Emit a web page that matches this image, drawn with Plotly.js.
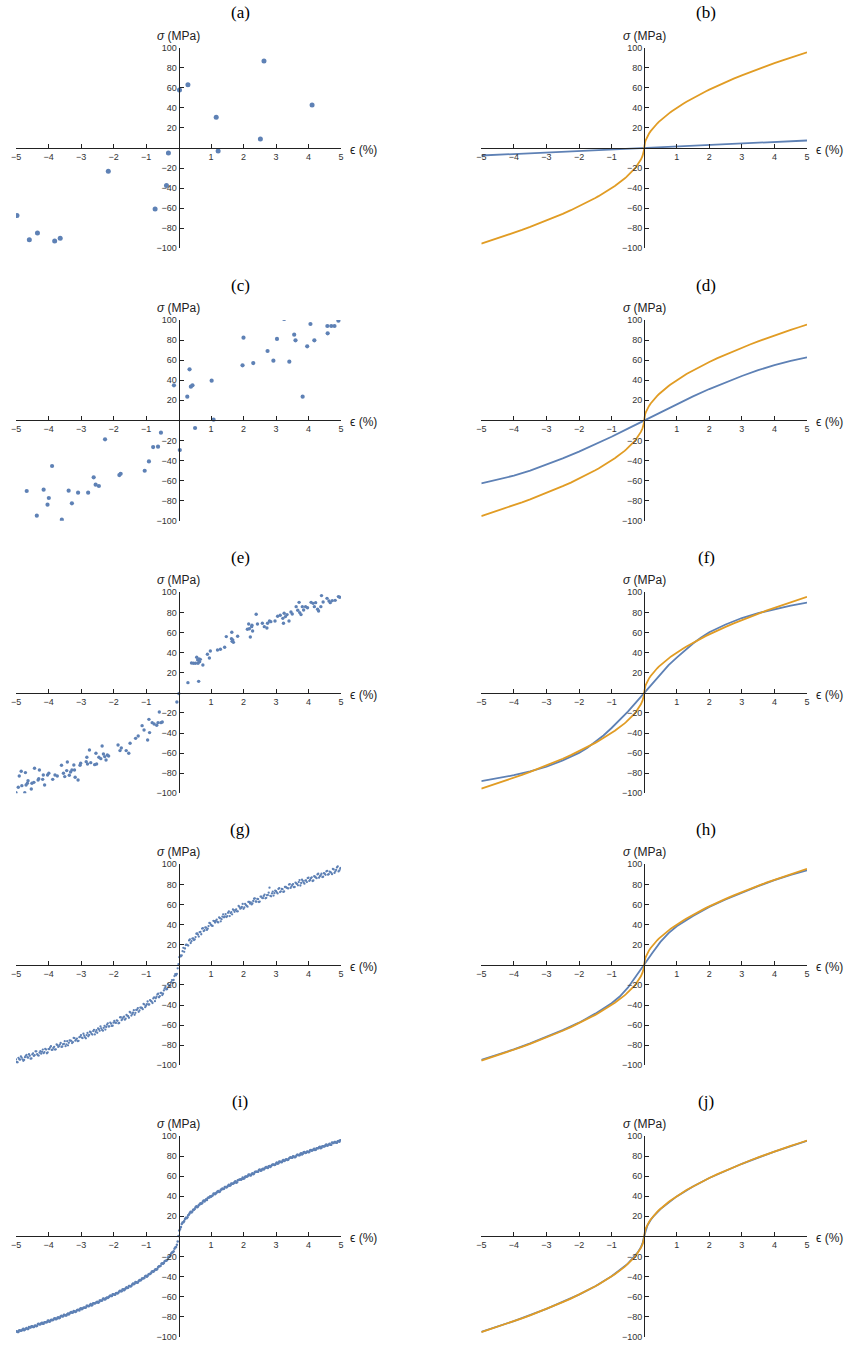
<!DOCTYPE html>
<html>
<head>
<meta charset="utf-8">
<script src="https://cdn.plot.ly/plotly-3.0.1.min.js"></script>
<style>html,body{margin:0;padding:0;background:#fff;}#chart{width:845px;height:1345px;}</style>
</head>
<body>
<div id="chart"></div>
<script>
// ---------------- DATA ----------------
const panelLetters = ['(a)','(b)','(c)','(d)','(e)','(f)','(g)','(h)','(i)','(j)'];
const xTickVals = [-5,-4,-3,-2,-1,1,2,3,4,5];
const yTickVals = [-100,-80,-60,-40,-20,20,40,60,80,100];

// (a) sparse samples
const aX = [-4.97,-4.59,-4.34,-3.81,-3.64,-2.16,-0.72,-0.37,-0.31,0.03,0.29,1.16,1.22,2.52,2.63,4.11];
const aY = [-67.4,-91.4,-84.7,-92.7,-90.0,-23.3,-60.8,-37.5,-5.0,57.8,63.1,30.6,-3.0,9.0,86.7,42.9];

// (c) samples
const cX = [-4.67,-4.36,-4.15,-4.03,-3.99,-3.89,-3.59,-3.38,-3.28,-3.09,-2.78,-2.61,-2.55,-2.45,-2.26,-1.82,-1.78,-1.04,-0.91,-0.78,-0.63,-0.54,-0.14,0.04,0.27,0.34,0.38,0.43,0.51,1.02,1.08,1.97,2.0,2.30,2.74,2.92,3.03,3.25,3.41,3.56,3.60,3.82,3.96,4.06,4.18,4.58,4.59,4.70,4.80,4.92];
const cY = [-70.4,-95.0,-69.1,-84.0,-77.4,-45.5,-99.0,-70.1,-82.7,-72.1,-72.1,-56.8,-64.1,-65.4,-18.9,-54.5,-53.2,-50.2,-40.9,-26.6,-26.2,-12.3,34.9,-29.6,23.6,50.8,33.6,34.9,-7.6,39.5,0.7,54.8,82.4,57.1,69.1,59.5,81.1,101,58.5,85.4,79.7,23.6,73.8,96.0,79.7,94.0,86.7,94.0,94.0,99.3];

// (e) samples
const eX = [-5.0,-4.93,-4.90,-4.84,-4.82,-4.73,-4.71,-4.69,-4.65,-4.63,-4.53,-4.51,-4.45,-4.43,-4.32,-4.28,-4.30,-4.18,-4.16,-4.12,-4.03,-3.99,-3.87,-3.80,-3.73,-3.60,-3.54,-3.50,-3.44,-3.42,-3.36,-3.32,-3.28,-3.22,-3.20,-3.18,-3.09,-3.03,-3.01,-2.84,-2.82,-2.80,-2.74,-2.70,-2.58,-2.52,-2.54,-2.45,-2.39,-2.35,-2.31,-2.27,-2.23,-2.19,-2.15,-1.86,-1.80,-1.76,-1.61,-1.53,-1.49,-1.32,-1.24,-1.12,-1.06,-0.95,-0.91,-0.89,-0.81,-0.75,-0.67,-0.63,-0.59,-0.54,-0.50,
  -0.05,0.01,0.29,0.62,0.40,0.46,0.52,0.56,0.59,0.63,0.65,0.60,0.67,0.75,0.89,0.95,0.98,1.20,1.29,1.42,1.47,1.64,1.63,1.67,1.69,1.65,1.82,2.12,2.16,2.18,2.21,2.25,2.28,2.26,2.39,2.43,2.58,2.64,2.72,2.74,2.80,2.84,2.97,3.05,3.13,3.21,3.25,3.23,3.29,3.34,3.40,3.46,3.50,3.62,3.67,3.71,3.73,3.77,3.81,3.85,3.91,3.97,4.08,4.14,4.18,4.22,4.28,4.31,4.38,4.40,4.45,4.57,4.63,4.67,4.73,4.82,4.92,4.96];
const eY = [-99.5,-94.0,-82.8,-78.1,-92.4,-99.5,-79.4,-91.7,-90.0,-87.4,-95.7,-90.0,-89.1,-75.1,-86.7,-76.8,-85.4,-86.1,-81.8,-91.7,-81.8,-80.1,-86.1,-81.8,-82.8,-72.1,-80.1,-83.4,-77.4,-68.8,-82.1,-78.8,-76.8,-71.8,-76.8,-84.1,-86.7,-72.1,-70.1,-68.5,-64.2,-70.8,-56.9,-69.5,-71.5,-70.8,-60.2,-64.2,-65.5,-52.9,-60.9,-63.5,-66.8,-61.9,-62.9,-51.9,-57.5,-54.9,-57.5,-60.2,-50.2,-45.3,-43.0,-32.7,-37.0,-46.9,-26.4,-39.6,-29.7,-31.0,-32.3,-29.7,-19.1,-29.7,-29.0,
  -9.1,-0.8,10.1,11.4,29.7,29.4,29.4,35.3,32.7,33.7,31.0,29.4,33.3,27.7,38.3,34.7,41.6,42.6,43.3,45.3,55.9,60.2,53.9,52.6,50.2,51.2,56.2,63.2,68.5,63.8,55.5,65.8,61.5,67.2,78.1,68.5,69.2,65.8,64.5,69.2,71.5,70.8,71.5,76.1,77.1,74.1,79.1,69.2,75.8,77.8,71.5,80.4,78.4,85.7,82.1,90.0,79.8,77.8,85.7,82.4,85.7,84.7,90.0,89.0,85.7,89.7,83.1,81.4,85.7,96.7,90.4,94.0,91.4,89.7,91.7,92.0,95.7,95.0];

// strain grids of the dense samples in (g) and (i)
const gX = [-5,-4.95,-4.9,-4.85,-4.8,-4.75,-4.7,-4.65,-4.6,-4.55,-4.5,-4.45,-4.4,-4.35,-4.3,-4.25,-4.2,-4.15,-4.1,-4.05,
  -4,-3.95,-3.9,-3.85,-3.8,-3.75,-3.7,-3.65,-3.6,-3.55,-3.5,-3.45,-3.4,-3.35,-3.3,-3.25,-3.2,-3.15,-3.1,-3.05,
  -3,-2.95,-2.9,-2.85,-2.8,-2.75,-2.7,-2.65,-2.6,-2.55,-2.5,-2.45,-2.4,-2.35,-2.3,-2.25,-2.2,-2.15,-2.1,-2.05,
  -2,-1.95,-1.9,-1.85,-1.8,-1.75,-1.7,-1.65,-1.6,-1.55,-1.5,-1.45,-1.4,-1.35,-1.3,-1.25,-1.2,-1.15,-1.1,-1.05,
  -1,-0.95,-0.9,-0.85,-0.8,-0.75,-0.7,-0.65,-0.6,-0.55,-0.5,-0.45,-0.4,-0.35,-0.3,-0.25,-0.2,-0.15,-0.1,-0.05,
  0,
  0.05,0.1,0.15,0.2,0.25,0.3,0.35,0.4,0.45,0.5,0.55,0.6,0.65,0.7,0.75,0.8,0.85,0.9,0.95,1,
  1.05,1.1,1.15,1.2,1.25,1.3,1.35,1.4,1.45,1.5,1.55,1.6,1.65,1.7,1.75,1.8,1.85,1.9,1.95,2,
  2.05,2.1,2.15,2.2,2.25,2.3,2.35,2.4,2.45,2.5,2.55,2.6,2.65,2.7,2.75,2.8,2.85,2.9,2.95,3,
  3.05,3.1,3.15,3.2,3.25,3.3,3.35,3.4,3.45,3.5,3.55,3.6,3.65,3.7,3.75,3.8,3.85,3.9,3.95,4,
  4.05,4.1,4.15,4.2,4.25,4.3,4.35,4.4,4.45,4.5,4.55,4.6,4.65,4.7,4.75,4.8,4.85,4.9,4.95,5];
const iX = [-4.975,-4.925,-4.875,-4.825,-4.775,-4.725,-4.675,-4.625,-4.575,-4.525,-4.475,-4.425,-4.375,-4.325,-4.275,-4.225,-4.175,-4.125,-4.075,-4.025,
  -3.975,-3.925,-3.875,-3.825,-3.775,-3.725,-3.675,-3.625,-3.575,-3.525,-3.475,-3.425,-3.375,-3.325,-3.275,-3.225,-3.175,-3.125,-3.075,-3.025,
  -2.975,-2.925,-2.875,-2.825,-2.775,-2.725,-2.675,-2.625,-2.575,-2.525,-2.475,-2.425,-2.375,-2.325,-2.275,-2.225,-2.175,-2.125,-2.075,-2.025,
  -1.975,-1.925,-1.875,-1.825,-1.775,-1.725,-1.675,-1.625,-1.575,-1.525,-1.475,-1.425,-1.375,-1.325,-1.275,-1.225,-1.175,-1.125,-1.075,-1.025,
  -0.975,-0.925,-0.875,-0.825,-0.775,-0.725,-0.675,-0.625,-0.575,-0.525,-0.475,-0.425,-0.375,-0.325,-0.275,-0.225,-0.175,-0.125,-0.075,-0.025,
  0.025,0.075,0.125,0.175,0.225,0.275,0.325,0.375,0.425,0.475,0.525,0.575,0.625,0.675,0.725,0.775,0.825,0.875,0.925,0.975,
  1.025,1.075,1.125,1.175,1.225,1.275,1.325,1.375,1.425,1.475,1.525,1.575,1.625,1.675,1.725,1.775,1.825,1.875,1.925,1.975,
  2.025,2.075,2.125,2.175,2.225,2.275,2.325,2.375,2.425,2.475,2.525,2.575,2.625,2.675,2.725,2.775,2.825,2.875,2.925,2.975,
  3.025,3.075,3.125,3.175,3.225,3.275,3.325,3.375,3.425,3.475,3.525,3.575,3.625,3.675,3.725,3.775,3.825,3.875,3.925,3.975,
  4.025,4.075,4.125,4.175,4.225,4.275,4.325,4.375,4.425,4.475,4.525,4.575,4.625,4.675,4.725,4.775,4.825,4.875,4.925,4.975];

// (g) samples: stress at gX, and at iX
const gY = [-94.2,-97.0,-94.0,-91.2,-94.1,-94.7,-90.6,-92.0,-89.0,-93.4,
  -89.2,-90.7,-86.1,-89.0,-90.3,-86.0,-86.6,-87.9,-83.7,-88.0,
  -83.9,-82.2,-84.7,-82.7,-84.4,-79.3,-81.7,-79.4,-81.7,-79.0,
  -76.0,-79.1,-80.1,-75.3,-75.6,-77.0,-72.9,-74.5,-76.0,-72.0,
  -69.9,-72.9,-70.6,-73.2,-67.8,-69.8,-67.1,-69.4,-64.7,-66.7,
  -67.6,-64.1,-61.4,-65.0,-62.7,-64.5,-59.6,-61.4,-57.5,-60.8,
  -57.6,-57.5,-55.2,-58.2,-52.3,-55.1,-52.4,-54.6,-49.9,-51.2,
  -46.9,-50.5,-47.7,-49.7,-44.9,-43.1,-45.4,-42.7,-44.2,-39.6,
  -40.8,-36.5,-39.5,-35.9,-38.0,-32.4,-33.3,-29.5,-32.3,-28.0,
  -30.1,-25.5,-22.1,-24.1,-20.0,-20.9,-15.2,-15.1,-9.4,-9.1,
  0.6,
  9.3,9.3,16.9,16.2,20.0,19.1,25.3,23.5,26.2,25.2,
  30.9,30.0,32.5,30.4,36.4,34.4,36.9,35.9,41.6,39.8,
  38.7,43.4,43.7,42.6,47.1,43.3,47.9,47.3,50.5,48.5,
  53.1,51.5,50.2,54.5,54.5,53.2,58.6,55.8,57.5,55.7,
  60.6,58.7,62.6,60.9,60.1,63.5,66.0,62.8,65.4,62.9,
  67.8,66.4,69.9,66.6,69.4,76.7,68.1,72.9,71.3,73.3,
  71.0,76.3,73.1,75.2,73.0,77.6,76.3,79.8,76.5,79.4,
  77.2,81.8,80.3,82.3,78.9,84.7,81.9,83.8,82.3,86.6,
  84.5,87.0,83.9,87.6,86.2,90.6,88.2,90.6,87.6,90.6,
  93.0,89.7,92.7,91.5,95.4,91.4,94.4,97.9,93.9,96.5];
const gY2 = [-96.7,-92.6,-94.4,-92.3,-95.5,-91.9,-89.7,-92.4,-90.5,-93.2,
  -88.1,-89.9,-86.1,-90.1,-87.4,-88.4,-84.4,-86.8,-84.4,-87.2,
  -83.8,-81.0,-84.5,-81.6,-84.1,-79.9,-80.9,-77.8,-81.3,-78.7,
  -81.0,-76.0,-77.6,-75.4,-77.9,-72.8,-75.5,-73.4,-75.6,-71.4,
  -72.4,-68.6,-72.2,-69.9,-71.2,-66.5,-68.7,-65.9,-69.3,-65.1,
  -63.2,-65.7,-63.4,-65.5,-60.7,-61.9,-58.2,-61.2,-58.6,-60.6,
  -55.9,-57.8,-55.7,-57.9,-52.2,-53.9,-51.6,-53.6,-50.8,-52.7,
  -47.6,-49.0,-45.1,-47.8,-44.7,-46.8,-42.6,-43.0,-38.9,-42.2,
  -39.2,-39.5,-35.1,-36.7,-33.5,-36.2,-31.8,-28.8,-31.2,-27.9,
  -28.8,-23.6,-24.5,-19.3,-21.0,-17.2,-17.9,-11.2,-10.4,-3.5,
  7.6,8.5,13.6,12.9,19.7,19.5,24.3,21.7,26.1,24.6,
  27.6,31.2,28.1,32.7,36.0,33.6,37.1,34.7,38.5,41.3,
  38.9,43.8,42.1,44.9,42.2,46.4,45.4,50.2,48.1,47.5,
  51.8,48.5,52.4,55.1,52.7,55.2,53.2,57.6,56.4,60.6,
  57.0,59.4,57.8,62.5,62.1,61.0,65.7,63.0,65.5,62.5,
  67.9,66.4,68.5,66.1,69.3,71.8,68.6,71.0,68.9,73.8,
  72.0,75.5,72.4,75.5,72.5,77.4,76.7,76.0,80.3,78.0,
  80.3,77.4,80.9,79.1,84.3,81.4,83.6,80.7,84.1,86.3,
  83.5,86.2,83.4,88.1,86.9,89.9,86.7,89.2,87.3,91.2,
  89.5,93.5,90.2,92.3,90.2,94.9,92.9,96.9,92.9,95.8];

// (i) samples: stress at iX, and at gX
const iY = [-94.6,-95.3,-93.9,-93.9,-92.2,-92.8,-91.4,-92.3,-90.8,-89.7,
  -90.3,-89.0,-89.5,-87.3,-87.8,-86.7,-87.1,-85.5,-85.5,-84.0,
  -85.2,-83.4,-83.5,-81.8,-82.5,-81.2,-81.6,-79.6,-79.8,-78.1,
  -78.9,-77.7,-77.8,-76.0,-76.2,-74.5,-75.5,-73.6,-73.4,-72.1,
  -72.7,-71.1,-71.2,-69.1,-69.6,-68.3,-68.8,-66.6,-67.0,-65.7,
  -66.1,-63.9,-64.1,-62.3,-62.9,-61.5,-61.5,-59.6,-59.5,-57.6,
  -58.3,-56.7,-57.0,-54.9,-54.6,-53.0,-53.7,-51.8,-51.5,-49.4,
  -49.9,-47.9,-47.8,-45.6,-46.3,-44.5,-44.1,-42.0,-41.8,-39.7,
  -40.3,-37.9,-37.5,-35.3,-35.4,-33.4,-33.2,-30.5,-29.8,-27.4,
  -27.2,-24.9,-24.3,-21.2,-20.4,-17.1,-15.9,-12.3,-10.5,-5.1,
  5.9,9.2,13.9,15.4,18.5,19.0,21.9,24.4,24.7,26.5,
  29.0,28.9,31.2,32.9,33.0,35.8,35.9,36.3,38.6,40.0,
  40.1,42.4,41.9,43.7,45.1,44.7,46.8,47.3,49.3,48.7,
  50.4,50.3,52.7,52.5,54.1,53.5,55.9,56.3,56.5,58.7,
  57.8,59.6,59.9,61.6,60.7,62.8,62.7,64.4,64.4,66.2,
  65.3,66.8,66.5,68.7,68.4,69.8,69.1,71.2,71.5,71.4,
  73.5,72.8,74.3,73.8,76.2,75.7,76.9,76.4,78.4,78.3,
  79.7,78.7,80.4,81.3,80.8,82.8,82.2,84.1,83.3,84.6,
  84.0,86.0,85.8,87.3,86.4,87.7,88.7,87.8,89.7,89.5,
  91.1,90.4,91.6,91.4,93.4,92.9,94.0,93.3,94.9,95.7];
const iY2 = [-94.8,-95.3,-93.6,-94.0,-92.8,-93.6,-92.0,-92.3,-90.3,-90.8,
  -89.7,-90.3,-88.8,-89.0,-87.2,-87.7,-86.2,-87.2,-85.6,-85.5,
  -83.8,-84.6,-83.1,-83.0,-81.7,-82.4,-80.7,-81.0,-79.0,-79.6,
  -78.5,-78.9,-76.9,-76.9,-75.5,-76.0,-74.7,-74.9,-73.2,-73.9,
  -71.6,-71.9,-71.0,-70.9,-69.1,-69.4,-67.5,-68.4,-66.6,-66.4,
  -65.1,-65.7,-64.0,-63.9,-62.0,-62.6,-60.9,-60.7,-58.9,-59.4,
  -57.8,-58.3,-56.5,-56.1,-54.3,-54.8,-52.8,-52.6,-50.8,-51.1,
  -49.5,-49.5,-47.1,-47.1,-45.7,-45.9,-43.5,-43.4,-41.9,-41.6,
  -39.3,-39.5,-37.5,-36.8,-34.7,-34.6,-32.9,-32.4,-29.9,-29.3,
  -26.9,-26.5,-24.2,-23.5,-20.5,-19.1,-16.1,-14.8,-11.2,-8.4,
  0.3,
  7.4,12.3,14.1,17.4,18.0,21.1,23.4,23.8,26.4,27.3,
  29.9,29.7,31.8,32.6,34.8,34.7,36.9,38.3,38.8,39.4,
  40.7,42.8,42.9,44.6,44.3,46.4,47.6,47.5,49.1,49.5,
  51.5,51.0,52.5,52.8,54.8,54.0,56.2,56.9,57.2,57.5,
  59.4,59.3,61.3,60.9,62.2,61.9,64.1,64.3,64.4,66.5,
  65.7,67.3,67.5,69.1,68.2,70.1,70.1,71.7,71.2,72.6,
  72.3,74.5,74.2,75.4,75.0,76.7,76.0,77.6,78.7,78.3,
  79.6,79.0,81.2,80.9,82.2,81.6,83.7,83.1,84.2,83.9,
  85.7,85.2,86.6,86.0,87.8,87.8,89.2,88.4,89.8,89.7,
  91.5,90.9,92.2,91.4,92.9,93.9,93.3,94.7,94.2,95.8];

// reference (orange) curve, same in (b),(d),(f),(h),(j)
const refX = [-5,-4.75,-4.5,-4.25,-4,-3.75,-3.5,-3.25,-3,-2.75,-2.5,-2.25,-2,-1.9,-1.8,-1.7,-1.6,-1.5,-1.4,-1.3,-1.2,-1.1,-1,-0.95,-0.9,-0.85,-0.8,-0.75,-0.7,-0.65,-0.6,-0.55,-0.5,-0.45,-0.4,-0.35,-0.3,-0.25,-0.2,-0.15,-0.1,-0.05,-0.03,-0.02,-0.01,-0.005,
  0,0.005,0.01,0.02,0.03,0.05,0.1,0.15,0.2,0.25,0.3,0.35,0.4,0.45,0.5,0.55,0.6,0.65,0.7,0.75,0.8,0.85,0.9,0.95,1,1.1,1.2,1.3,1.4,1.5,1.6,1.7,1.8,1.9,2,2.25,2.5,2.75,3,3.25,3.5,3.75,4,4.25,4.5,4.75,5];
const refY = [-95.4,-92.8,-90.1,-87.4,-84.6,-81.7,-78.7,-75.6,-72.4,-69.1,-65.6,-62.0,-58.2,-56.6,-54.9,-53.3,-51.6,-49.8,-48.0,-46.1,-44.1,-42.1,-40.0,-38.9,-37.8,-36.6,-35.5,-34.2,-33.0,-31.7,-30.4,-29.0,-27.5,-26.0,-24.4,-22.7,-20.9,-18.9,-16.8,-14.4,-11.5,-7.9,-6.0,-4.8,-3.3,-2.3,
  0,2.3,3.3,4.8,6.0,7.9,11.5,14.4,16.8,18.9,20.9,22.7,24.4,26.0,27.5,29.0,30.4,31.7,33.0,34.2,35.5,36.6,37.8,38.9,40.0,42.1,44.1,46.1,48.0,49.8,51.6,53.3,54.9,56.6,58.2,62.0,65.6,69.1,72.4,75.6,78.7,81.7,84.6,87.4,90.1,92.8,95.4];

// fitted (blue) curves
const bX = [-5,5];
const bY = [-7.5,7.5];
const dX = [-5,-4.5,-4,-3.5,-3,-2.5,-2,-1.5,-1,-0.5,0,0.5,1,1.5,2,2.5,3,3.5,4,4.5,5];
const dY = [-62.8,-59.3,-55.1,-50.0,-44.2,-37.9,-31.2,-23.9,-16.3,-8.2,0,8.2,16.3,23.9,31.2,37.9,44.2,50.0,55.1,59.3,62.8];
const fX = [-5,-4.5,-4,-3.5,-3,-2.5,-2,-1.75,-1.5,-1.25,-1,-0.75,-0.5,-0.25,0,0.25,0.5,0.75,1,1.25,1.5,1.75,2,2.5,3,3.5,4,4.5,5];
const fY = [-88.0,-85.3,-82.0,-78.2,-73.6,-67.3,-59.8,-55.0,-49.2,-42.5,-35.0,-27.3,-18.8,-9.5,0,9.5,19.0,27.5,35.0,42.5,49.0,55.0,60.3,68.0,74.4,79.3,83.3,86.8,89.8];
const hX = [-5,-4.5,-4,-3.5,-3,-2.5,-2,-1.5,-1,-0.75,-0.5,-0.25,-0.1,0,0.1,0.25,0.5,0.75,1,1.5,2,2.5,3,3.5,4,4.5,5];
const hY = [-94.5,-89.5,-84.2,-78.2,-71.8,-65.0,-57.6,-48.6,-38.3,-31.6,-22.8,-11.8,-4.8,0,4.8,11.8,22.8,31.6,38.3,48.6,57.6,65.0,71.8,78.2,84.2,89.5,94.0];
const jX = [-5,-4,-3,-2,-1.5,-1,-0.5,-0.3,-0.2,-0.1,-0.05,0,0.05,0.1,0.2,0.3,0.5,1,1.5,2,3,4,5];
const jY = [-95.2,-84.5,-72.3,-58.1,-49.7,-39.8,-27.2,-20.5,-16.3,-10.8,-7.0,0,7.0,10.8,16.3,20.5,27.2,39.8,49.7,58.1,72.3,84.5,95.2];

// ---------------- STYLE / LAYOUT ----------------
const W = 845, H = 1345;
const BLUE = '#5E81B5', ORANGE = '#E19C24';
const colPx = [[16, 341], [481.3, 807]];
const rowPx = [[47.7, 248.3], [320, 520.7], [592.3, 793.3], [864.3, 1065.3], [1136, 1336.7]];
const titleXPx = [240, 706];

function pts(x, y, size) {
  return {x: x, y: y, type: 'scatter', mode: 'markers', marker: {size: size, color: BLUE, line: {width: 0}}, hoverinfo: 'skip'};
}
function ln(x, y, color) {
  return {x: x, y: y, type: 'scatter', mode: 'lines', line: {color: color, width: 1.8}, hoverinfo: 'skip'};
}

const panelTraces = [
  [pts(aX, aY, 5)],
  [ln(bX, bY, BLUE), ln(refX, refY, ORANGE)],
  [pts(cX, cY, 4.2)],
  [ln(dX, dY, BLUE), ln(refX, refY, ORANGE)],
  [pts(eX, eY, 3.4)],
  [ln(fX, fY, BLUE), ln(refX, refY, ORANGE)],
  [pts(gX, gY, 2.3), pts(iX, gY2, 2.3)],
  [ln(hX, hY, BLUE), ln(refX, refY, ORANGE)],
  [pts(iX, iY, 2.5), pts(gX, iY2, 2.5)],
  [ln(jX, jY, BLUE), ln(refX, refY, ORANGE)]
];

const data = [];
const layout = {
  width: W, height: H,
  margin: {l: 0, r: 0, t: 0, b: 0, pad: 0},
  paper_bgcolor: '#fff', plot_bgcolor: 'rgba(0,0,0,0)',
  showlegend: false,
  annotations: []
};
const tickFont = {family: 'Liberation Sans, Arial, sans-serif', size: 9, color: '#333'};
const labFont = {family: 'Liberation Sans, Arial, sans-serif', size: 12, color: '#222'};
const titleFont = {family: 'Liberation Serif, Times New Roman, serif', size: 17, color: '#000'};

for (let p = 0; p < 10; p++) {
  const r = Math.floor(p / 2), c = p % 2;
  const sfx = p === 0 ? '' : String(p + 1);
  const xd = [colPx[c][0] / W, colPx[c][1] / W];
  const yd = [1 - rowPx[r][1] / H, 1 - rowPx[r][0] / H];
  panelTraces[p].forEach(t => { t.xaxis = 'x' + sfx; t.yaxis = 'y' + sfx; t.cliponaxis = true; data.push(t); });
  layout['xaxis' + sfx] = {
    domain: xd, range: [-5, 5], anchor: 'free', position: (yd[0] + yd[1]) / 2,
    showline: true, linecolor: '#222', linewidth: 1,
    ticks: 'inside', ticklen: 4, tickwidth: 1, tickcolor: '#222',
    tickmode: 'array', tickvals: xTickVals, tickfont: tickFont,
    showgrid: false, zeroline: false, fixedrange: true
  };
  layout['yaxis' + sfx] = {
    domain: yd, range: [-100, 100], anchor: 'free', position: (xd[0] + xd[1]) / 2,
    showline: true, linecolor: '#222', linewidth: 1,
    ticks: 'inside', ticklen: 4, tickwidth: 1, tickcolor: '#222',
    tickmode: 'array', tickvals: yTickVals, tickfont: tickFont,
    showgrid: false, zeroline: false, fixedrange: true
  };
  layout.annotations.push({
    xref: 'paper', yref: 'paper', x: titleXPx[c] / W, y: 1 - (rowPx[r][0] - 35) / H,
    xanchor: 'center', yanchor: 'middle', text: panelLetters[p], showarrow: false, font: titleFont
  });
  layout.annotations.push({
    xref: 'paper', yref: 'paper', x: (colPx[c][0] + colPx[c][1]) / 2 / W, y: 1 - (rowPx[r][0] - 12) / H,
    xanchor: 'center', yanchor: 'middle', text: '<i>σ</i> (MPa)', showarrow: false, font: labFont
  });
  layout.annotations.push({
    xref: 'paper', yref: 'paper', x: (colPx[c][1] + 7) / W, y: 1 - ((rowPx[r][0] + rowPx[r][1]) / 2 + 2) / H,
    xanchor: 'left', yanchor: 'middle', text: 'ϵ (%)', showarrow: false, font: labFont
  });
}

Plotly.newPlot('chart', data, layout, {staticPlot: true, displayModeBar: false});
</script>
</body>
</html>
